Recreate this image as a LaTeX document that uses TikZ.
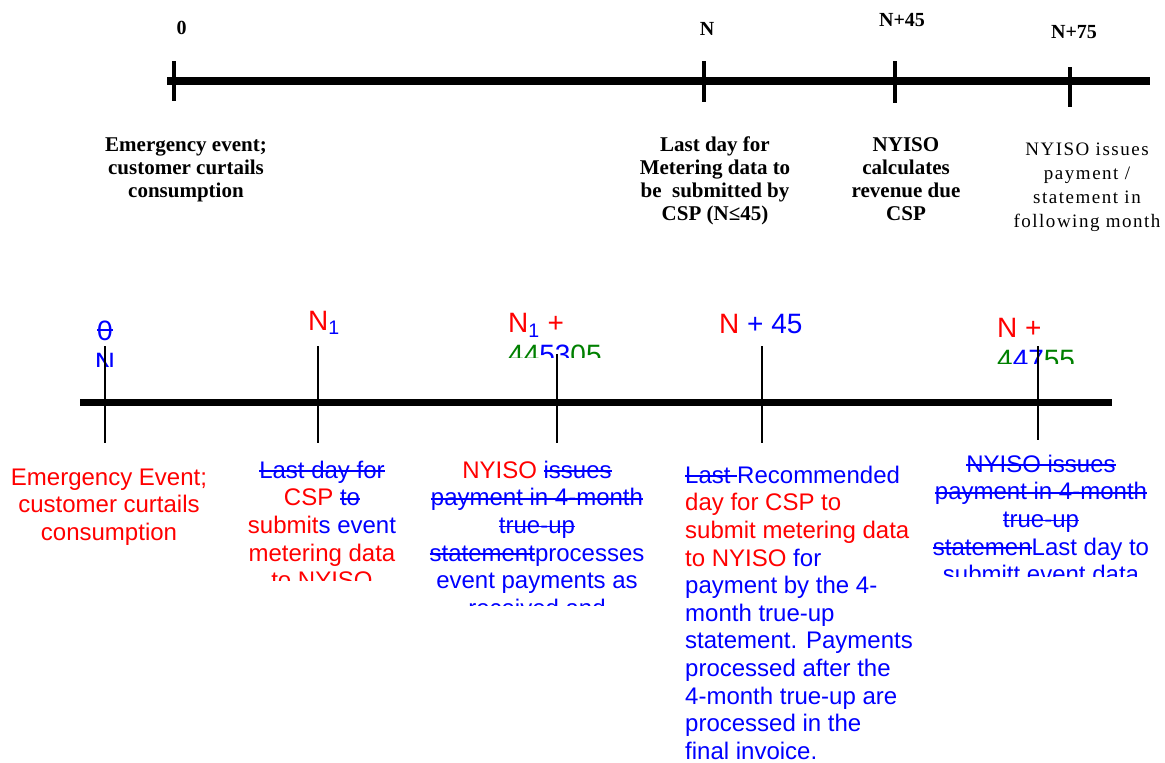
\documentclass[tikz,border=0pt]{standalone}
\usepackage{fontspec}
\setmainfont{Liberation Sans}
\newfontfamily\serifb{Liberation Serif}
\newfontfamily\serifsp[LetterSpace=8]{Liberation Serif}
\definecolor{cred}{RGB}{255,0,0}
\definecolor{cblue}{RGB}{0,0,255}
\definecolor{cgreen}{RGB}{0,128,0}
\newcommand{\R}[1]{\textcolor{cred}{#1}}
\newcommand{\B}[1]{\textcolor{cblue}{#1}}
\newcommand{\G}[1]{\textcolor{cgreen}{#1}}
\newsavebox{\strikebox}
\newcommand{\BS}[2][0.26em]{{\color{cblue}\sbox{\strikebox}{#2}\rlap{\rule[#1]{\wd\strikebox}{1.6pt}}\usebox{\strikebox}}}
\begin{document}
\begin{tikzpicture}[x=1pt,y=-1pt,
  topaxis/.style={line width=8pt},
  toptick/.style={line width=4.5pt},
  botaxis/.style={line width=7.5pt},
  bottick/.style={line width=1.6pt},
  toplab/.style={font=\serifb\bfseries\fontsize{20}{22}\selectfont, inner sep=0pt, anchor=base},
  toptext/.style={font=\serifb\bfseries\fontsize{21}{23}\selectfont, inner sep=0pt, anchor=north, align=center},
  toptextr/.style={font=\serifsp\fontsize{19}{24}\selectfont, inner sep=0pt, anchor=north, align=center},
  botlab/.style={font=\fontsize{28}{32.2}\selectfont, inner sep=0pt},
  bottext/.style={font=\fontsize{24}{27.6}\selectfont, inner sep=0pt, anchor=north, align=center}]
\useasboundingbox (0,0) rectangle (1165,763);

% ---------------- top timeline ----------------
\coordinate (TL) at (167,81);
\coordinate (TR) at (1150,81);
\draw[topaxis] (TL) -- (TR);
\coordinate (ta1) at (174,61);  \coordinate (tb1) at (174,101);
\coordinate (ta2) at (704,61);  \coordinate (tb2) at (704,102);
\coordinate (ta3) at (895,61);  \coordinate (tb3) at (895,103);
\coordinate (ta4) at (1070,67); \coordinate (tb4) at (1070,107);
\draw[toptick] (ta1) -- (tb1);
\draw[toptick] (ta2) -- (tb2);
\draw[toptick] (ta3) -- (tb3);
\draw[toptick] (ta4) -- (tb4);

\node[toplab] (tl1) at (181.5,34) {0};
\node[toplab] (tl2) at (707,35) {N};
\node[toplab] (tl3) at (902,26) {N+45};
\node[toplab] (tl4) at (1074,38) {N+75};

\node[toptext] (tt1) at (186,135) {\strut Emergency event;\\customer curtails\\consumption};
\node[toptext] (tt2) at (715,135) {\strut Last day for\\Metering data to\\be\ \ submitted by\\CSP (N≤45)};
\node[toptext] (tt3) at (906,135) {\strut NYISO\\calculates\\revenue due\\CSP};
\node[toptextr] (tt4) at (1087,138) {\strut NYISO issues\\payment /\\statement in\\following month};

% ---------------- bottom timeline ----------------
\coordinate (BL) at (80,402.5);
\coordinate (BR) at (1112,402.5);
\draw[botaxis] (BL) -- (BR);
\coordinate (ba1) at (105,346);  \coordinate (bb1) at (105,443);
\coordinate (ba2) at (318,346);  \coordinate (bb2) at (318,443);
\coordinate (ba3) at (557,354);  \coordinate (bb3) at (557,443);
\coordinate (ba4) at (762,346);  \coordinate (bb4) at (762,443);
\coordinate (ba5) at (1038,346); \coordinate (bb5) at (1038,440);

% labels above the bottom line
\begin{scope}
  \clip (60,290) rectangle (150,366);
  \node[botlab, anchor=north, align=center] (bl1) at (105,317.5) {\strut\BS[0.33em]{0}\\\B{N}};
\end{scope}
\node[botlab, anchor=base west] (bl2) at (308,330) {\R{N}\B{\textsubscript{1}}};
\begin{scope}
  \clip (490,290) rectangle (640,357);
  \node[botlab, anchor=north west, align=left] (bl3) at (508,309.5) {\strut\R{N}\B{\textsubscript{1}} \R{+}\\\G{44}\B{53}\G{05}};
\end{scope}
\node[botlab, anchor=base west] (bl4) at (719,333) {\R{N} \B{+ 45}};
\begin{scope}
  \clip (980,290) rectangle (1100,363);
  \node[botlab, anchor=north west, align=left] (bl5) at (997,314.5) {\strut\R{N +}\\\G{4}\B{47}\G{55}};
\end{scope}

\draw[bottick] (ba1) -- (bb1);
\draw[bottick] (ba2) -- (bb2);
\draw[bottick] (ba3) -- (bb3);
\draw[bottick] (ba4) -- (bb4);
\draw[bottick] (ba5) -- (bb5);

% texts below the bottom line
\node[bottext, text=cred] (bt1) at (109,465.7) {\strut Emergency Event;\\customer curtails\\consumption};
\begin{scope}
  \clip (220,440) rectangle (430,580);
  \node[bottext] (bt2) at (322,458.7) {\strut\BS{Last day for}\\\R{CSP }\BS{to}\\\R{submit}\B{s event}\\\R{metering data}\\\R{to NYISO}};
\end{scope}
\begin{scope}
  \clip (420,440) rectangle (660,605);
  \node[bottext] (bt3) at (537,458.7) {\strut\R{NYISO }\BS{issues}\\\BS{payment in 4-month}\\\BS{true-up}\\\BS{statement}\B{processes}\\\B{event payments as}\\\B{received and}};
\end{scope}
\node[bottext, anchor=north west, align=left] (bt4) at (685,463.7) {\strut\BS{Last\ }\B{Recommended}\\\R{day for CSP to}\\\R{submit metering data}\\\R{to NYISO} \B{for}\\\B{payment by the 4-}\\\B{month true-up}\\\B{statement. Payments}\\\B{processed after the}\\\B{4-month true-up are}\\\B{processed in the}\\\B{final invoice.}};
\begin{scope}
  \clip (920,440) rectangle (1165,576);
  \node[bottext] (bt5) at (1041,452.7) {\strut\BS{NYISO issues}\\\BS{payment in 4-month}\\\BS{true-up}\\\BS{statemen}\B{Last day to}\\\B{submitt event data}};
\end{scope}
\end{tikzpicture}
\end{document}
